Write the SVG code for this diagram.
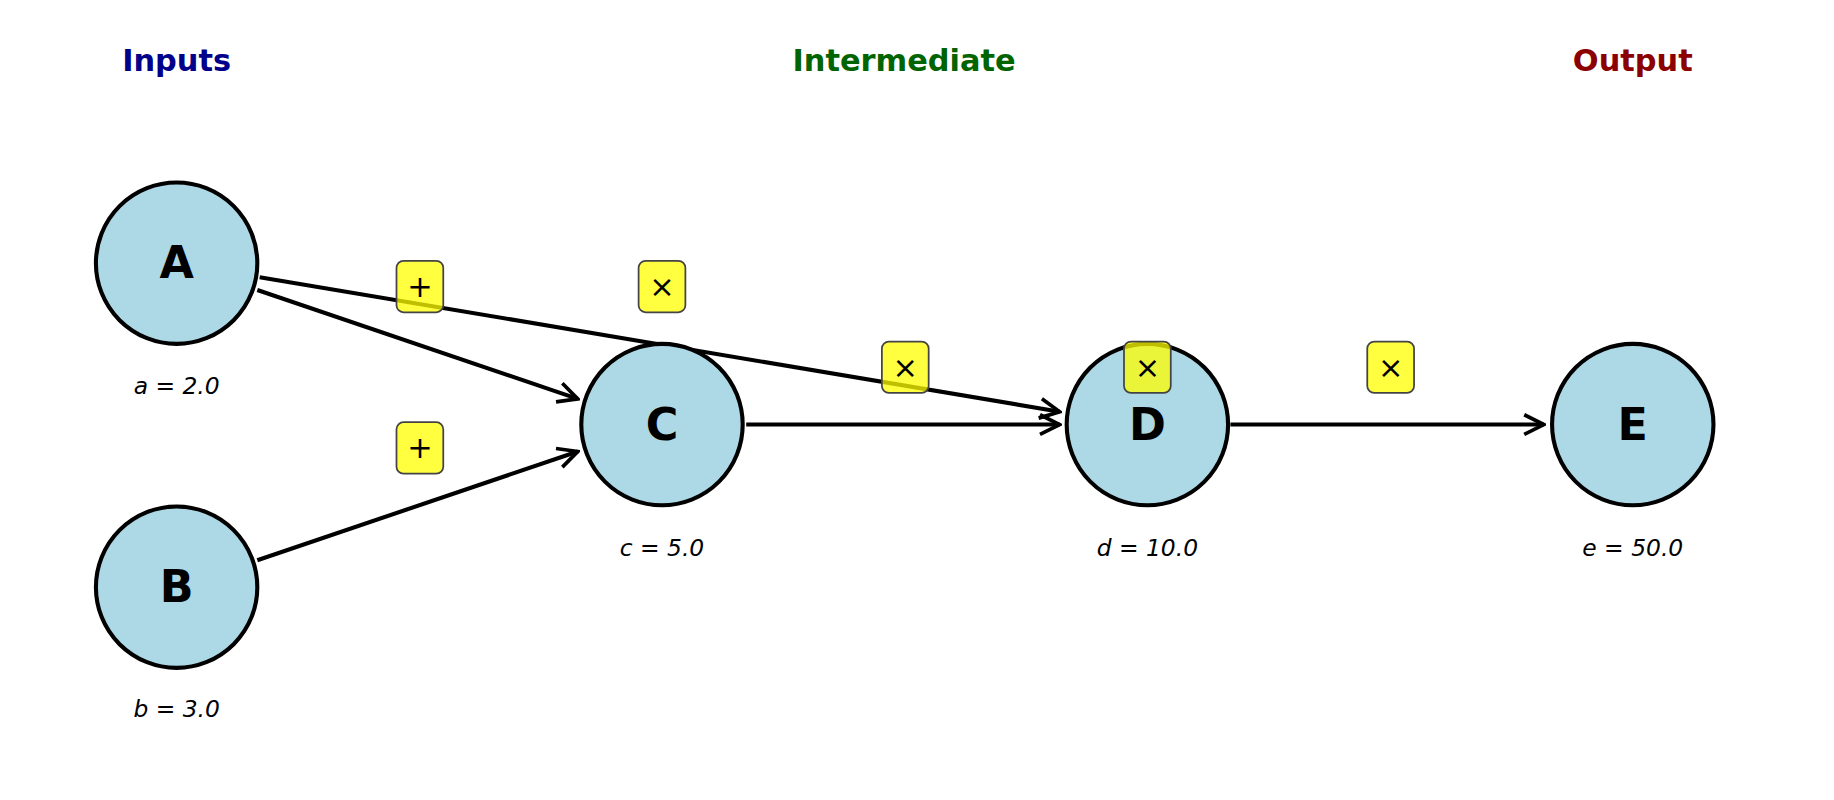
<svg xmlns="http://www.w3.org/2000/svg" width="1834" height="800" viewBox="0 0 1834 800">
<style>
.t{font-family:"DejaVu Sans",sans-serif;font-weight:bold;font-size:26px;text-anchor:middle}
.n circle{fill:#add8e6;stroke:#000;stroke-width:3.5}
.n .l{font-family:"DejaVu Sans",sans-serif;font-weight:bold;font-size:38px;text-anchor:middle}
.n .v{font-family:"DejaVu Sans",sans-serif;font-style:italic;font-size:20px;text-anchor:middle}
.e line{stroke:#000;stroke-width:3.5;marker-end:url(#ah)}
.op rect{fill:#ffff00;fill-opacity:0.75;stroke:#444;stroke-width:1.5}
.op text{font-family:"DejaVu Sans",sans-serif;font-size:26px;text-anchor:middle}
</style>
<defs><marker id="ah" viewBox="0 0 20 20" refX="18" refY="10" markerWidth="6" markerHeight="6" markerUnits="strokeWidth" orient="auto"><path d="M2,2 L18,10 L2,18" fill="none" stroke="#000" stroke-width="3"/></marker></defs>
<rect width="1834" height="800" fill="#fff"/>
<g transform="scale(1.1696)">
<text class="t" x="151" y="61" fill="#00008b">Inputs</text>
<text class="t" x="773" y="61" fill="#006400">Intermediate</text>
<text class="t" x="1396" y="61" fill="#8b0000">Output</text>
<g id="edges" class="e">
<line x1="220" y1="248" x2="494" y2="341"/>
<line x1="222" y1="237" x2="906" y2="352"/>
<line x1="220" y1="479" x2="494" y2="386"/>
<line x1="638" y1="363" x2="906" y2="363"/>
<line x1="1052" y1="363" x2="1320" y2="363"/>
</g>
<g id="A" class="n"><circle cx="151" cy="225" r="69"/><text class="l" x="151" y="238">A</text><text class="v" x="151" y="337">a = 2.0</text></g>
<g id="B" class="n"><circle cx="151" cy="502" r="69"/><text class="l" x="151" y="515">B</text><text class="v" x="151" y="613">b = 3.0</text></g>
<g id="C" class="n"><circle cx="566" cy="363" r="69"/><text class="l" x="566" y="376">C</text><text class="v" x="566" y="475">c = 5.0</text></g>
<g id="D" class="n"><circle cx="981" cy="363" r="69"/><text class="l" x="981" y="376">D</text><text class="v" x="981" y="475">d = 10.0</text></g>
<g id="E" class="n"><circle cx="1396" cy="363" r="69"/><text class="l" x="1396" y="376">E</text><text class="v" x="1396" y="475">e = 50.0</text></g>
<g id="ops" class="op">
<rect x="339" y="223" width="40" height="44" rx="6"/><text x="359" y="254">+</text>
<rect x="546" y="223" width="40" height="44" rx="6"/><text x="566" y="254">×</text>
<rect x="754" y="292" width="40" height="44" rx="6"/><text x="774" y="323">×</text>
<rect x="961" y="292" width="40" height="44" rx="6"/><text x="981" y="323">×</text>
<rect x="1169" y="292" width="40" height="44" rx="6"/><text x="1189" y="323">×</text>
<rect x="339" y="361" width="40" height="44" rx="6"/><text x="359" y="392">+</text>
</g>
</g>
</svg>
